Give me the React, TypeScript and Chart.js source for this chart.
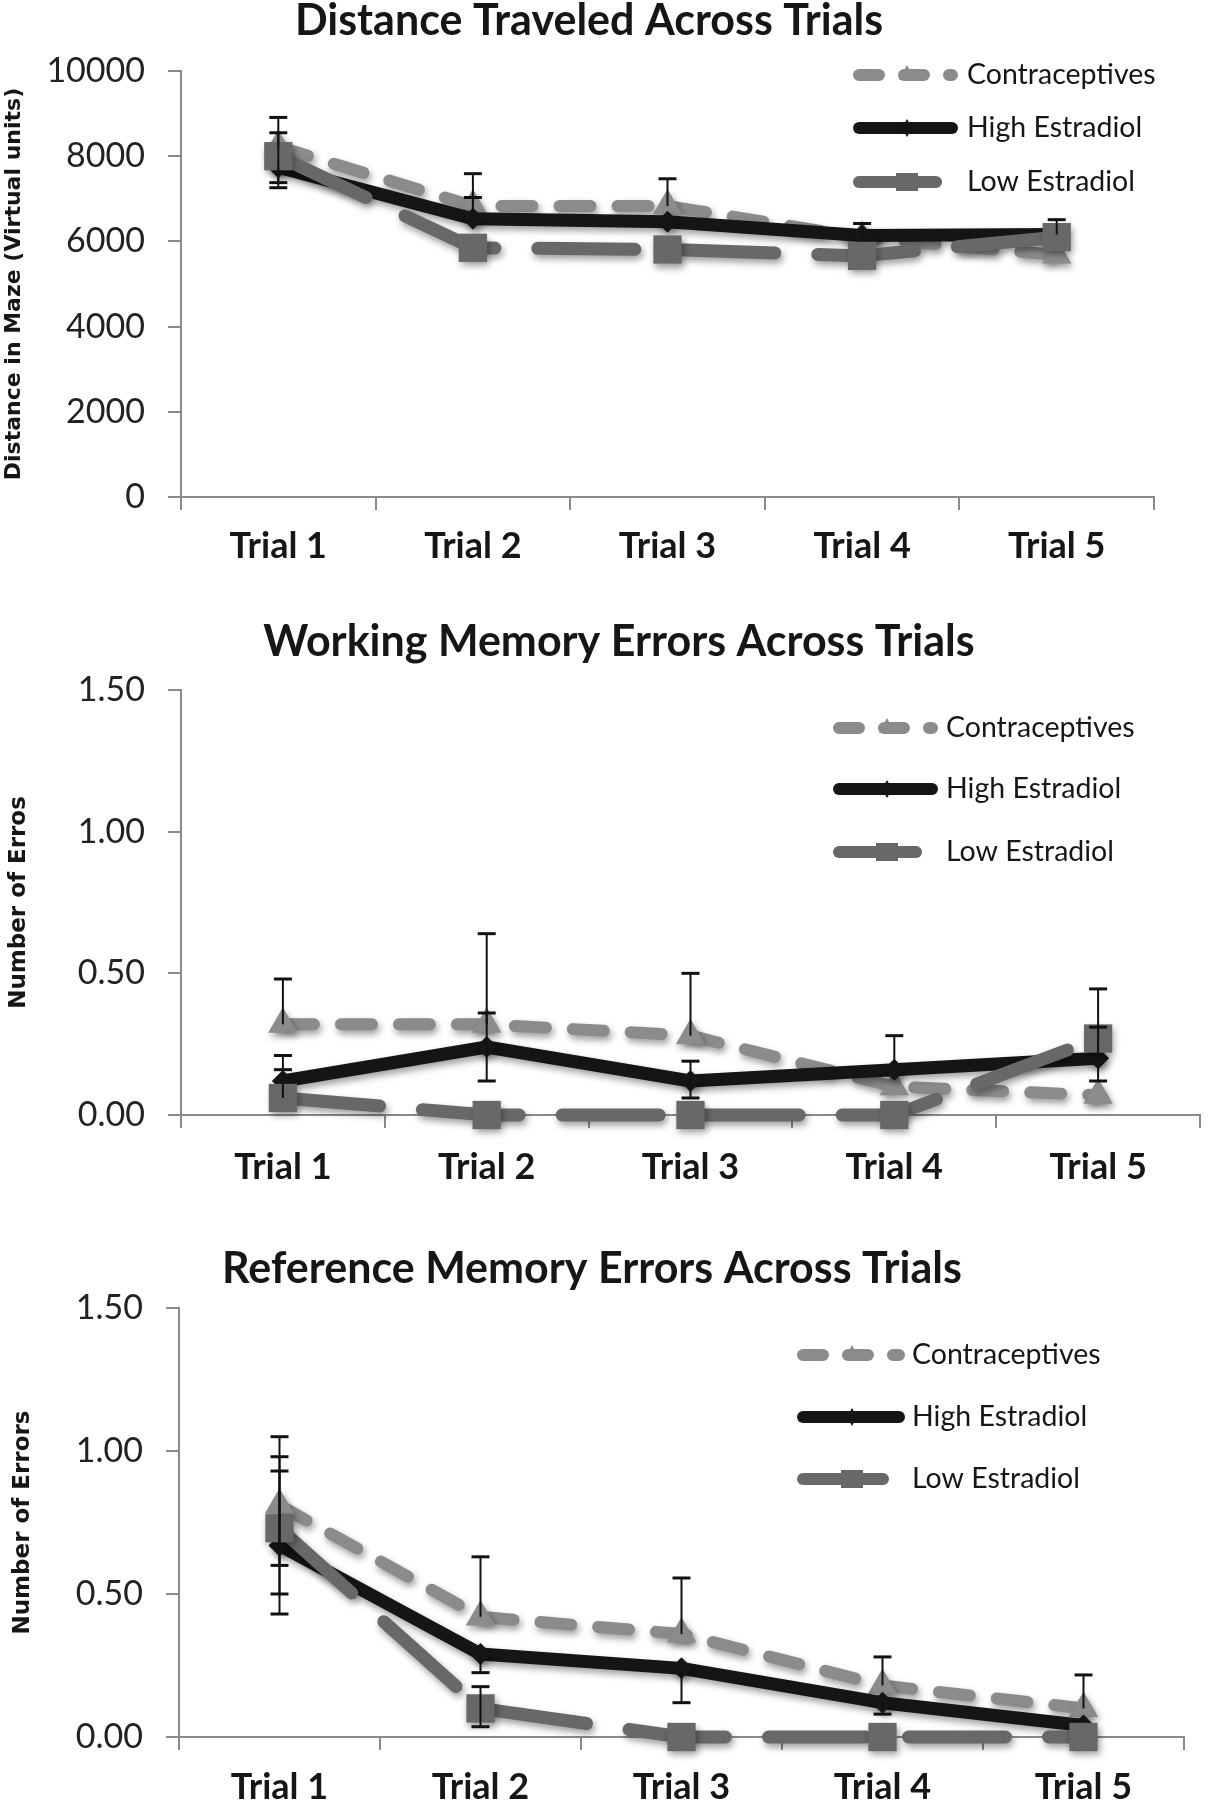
import React, { useEffect, useRef } from 'react';
import { Chart, registerables } from 'chart.js';

Chart.register(...registerables);

// ---------- shared data ----------
const trialLabels = ['Trial 1', 'Trial 2', 'Trial 3', 'Trial 4', 'Trial 5'];
const seriesNames = ['Contraceptives', 'High Estradiol', 'Low Estradiol'];

// ---------- panel 1: distance ----------
const distanceTicks = [0, 2000, 4000, 6000, 8000, 10000];
const distContra = [8220, 6830, 6830, 6090, 5680];
const distHigh = [7740, 6530, 6460, 6140, 6160];
const distLow = [8000, 5850, 5810, 5660, 6100];
const distContraUp = [690, 760, 640, 330, 0];
const distContraDown = [0, 0, 0, 0, 0];
const distHighUp = [0, 500, 0, 0, 350];
const distHighDown = [480, 0, 0, 0, 0];
const distLowUp = [550, 0, 0, 0, 0];
const distLowDown = [620, 0, 0, 0, 0];

// ---------- panel 2: working memory errors ----------
const errorTicks = [0, 0.5, 1.0, 1.5];
const wmContra = [0.32, 0.32, 0.28, 0.1, 0.07];
const wmHigh = [0.12, 0.24, 0.12, 0.16, 0.2];
const wmLow = [0.06, 0, 0, 0, 0.27];
const wmContraUp = [0.16, 0.32, 0.22, 0, 0];
const wmContraDown = [0, 0, 0, 0, 0];
const wmHighUp = [0.09, 0.12, 0.07, 0.12, 0.11];
const wmHighDown = [0, 0.12, 0.06, 0, 0.08];
const wmLowUp = [0.1, 0, 0, 0, 0.175];
const wmLowDown = [0, 0, 0, 0, 0];

// ---------- panel 3: reference memory errors ----------
const rmContra = [0.81, 0.42, 0.36, 0.18, 0.1];
const rmHigh = [0.67, 0.29, 0.24, 0.12, 0.04];
const rmLow = [0.73, 0.1, 0, 0, 0];
const rmContraUp = [0.24, 0.21, 0.196, 0.1, 0.117];
const rmContraDown = [0.21, 0, 0, 0, 0];
const rmHighUp = [0.26, 0, 0, 0, 0];
const rmHighDown = [0.24, 0.065, 0.12, 0.04, 0];
const rmLowUp = [0.25, 0.076, 0, 0, 0];
const rmLowDown = [0.23, 0.064, 0, 0, 0];

// ---------- styles ----------
const CONTRA = '#8b8b8b';
const HIGH = '#151515';
const LOW = '#686868';
const AXIS = '#8a8a8a';
const TEXT = '#161616';

const shadowPlugin = {
  id: 'softShadow',
  beforeDatasetDraw(chart: any) {
    const ctx = chart.ctx;
    ctx.save();
    ctx.shadowColor = 'rgba(0,0,0,0.38)';
    ctx.shadowBlur = 7;
    ctx.shadowOffsetX = 2;
    ctx.shadowOffsetY = 4;
  },
  afterDatasetDraw(chart: any) {
    chart.ctx.restore();
  },
};

const errorBarPlugin = {
  id: 'errorBars',
  afterDatasetsDraw(chart: any) {
    const ctx = chart.ctx;
    const yScale = chart.scales.y;
    ctx.save();
    ctx.strokeStyle = '#111';
    chart.data.datasets.forEach((ds: any, di: number) => {
      const meta = chart.getDatasetMeta(di);
      const up = ds.errUp || [];
      const down = ds.errDown || [];
      meta.data.forEach((pt: any, i: number) => {
        const v = ds.data[i];
        const u = up[i] || 0;
        const d = down[i] || 0;
        if (!u && !d) return;
        const x = pt.x;
        const yTop = yScale.getPixelForValue(v + u);
        const yBot = yScale.getPixelForValue(v - d);
        ctx.lineWidth = 2;
        ctx.beginPath();
        ctx.moveTo(x, yTop);
        ctx.lineTo(x, yBot);
        ctx.stroke();
        ctx.lineWidth = 3;
        const cap = 9;
        if (u) {
          ctx.beginPath();
          ctx.moveTo(x - cap, yTop);
          ctx.lineTo(x + cap, yTop);
          ctx.stroke();
        }
        if (d) {
          ctx.beginPath();
          ctx.moveTo(x - cap, yBot);
          ctx.lineTo(x + cap, yBot);
          ctx.stroke();
        }
      });
    });
    ctx.restore();
  },
};

function drawMarker(ctx: any, style: string, x: number, y: number, color: string) {
  ctx.fillStyle = color;
  ctx.beginPath();
  if (style === 'triangle') {
    ctx.moveTo(x, y - 10);
    ctx.lineTo(x + 8, y + 5);
    ctx.lineTo(x - 8, y + 5);
    ctx.closePath();
  } else if (style === 'rectRot') {
    ctx.moveTo(x, y - 9);
    ctx.lineTo(x + 5, y);
    ctx.lineTo(x, y + 9);
    ctx.lineTo(x - 5, y);
    ctx.closePath();
  } else {
    ctx.rect(x - 11, y - 9, 22, 18);
  }
  ctx.fill();
}

const insetLegendPlugin = {
  id: 'insetLegend',
  afterDraw(chart: any, _args: any, opts: any) {
    const ctx = chart.ctx;
    chart.data.datasets.forEach((ds: any, i: number) => {
      const y = opts.rows[i];
      const x2 = opts.x2[i];
      ctx.save();
      ctx.strokeStyle = ds.borderColor;
      ctx.lineWidth = 12;
      ctx.lineCap = 'round';
      ctx.setLineDash(opts.dashes[i]);
      ctx.beginPath();
      ctx.moveTo(opts.x1 + 6, y);
      ctx.lineTo(x2 - 6, y);
      ctx.stroke();
      ctx.setLineDash([]);
      drawMarker(ctx, ds.pointStyle, opts.markerX, y, ds.pointBackgroundColor);
      ctx.fillStyle = TEXT;
      ctx.font = '28.5px Lato';
      ctx.textBaseline = 'middle';
      ctx.textAlign = 'left';
      ctx.fillText(ds.label, opts.textX, y);
      ctx.restore();
    });
  },
};

interface PanelParams {
  title: string;
  yTitle: string;
  yTitleSize: number;
  yTitlePad: number;
  ticks: number[];
  fmt: (v: number) => string;
  contra: number[];
  high: number[];
  low: number[];
  contraUp: number[];
  contraDown: number[];
  highUp: number[];
  highDown: number[];
  lowUp: number[];
  lowDown: number[];
  padLeft: number;
  padRight: number;
  padTop: number;
  titleGap: number;
  yAxisW: number;
  xAxisH: number;
  xPad: number;
  legend: any;
}

function buildConfig(p: PanelParams): any {
  return {
    type: 'line',
    data: {
      labels: trialLabels,
      datasets: [
        {
          label: seriesNames[0],
          data: p.contra,
          errUp: p.contraUp,
          errDown: p.contraDown,
          borderColor: CONTRA,
          backgroundColor: CONTRA,
          borderWidth: 12,
          borderDash: [31, 27],
          borderCapStyle: 'round',
          borderJoinStyle: 'round',
          pointStyle: 'triangle',
          pointRadius: 17,
          pointHoverRadius: 17,
          pointBackgroundColor: CONTRA,
          pointBorderWidth: 0,
          order: 2,
          clip: false,
        },
        {
          label: seriesNames[1],
          data: p.high,
          errUp: p.highUp,
          errDown: p.highDown,
          borderColor: HIGH,
          backgroundColor: HIGH,
          borderWidth: 13,
          borderJoinStyle: 'round',
          borderCapStyle: 'round',
          pointStyle: 'rectRot',
          pointRadius: 11,
          pointHoverRadius: 11,
          pointBackgroundColor: HIGH,
          pointBorderWidth: 0,
          order: 1,
          clip: false,
        },
        {
          label: seriesNames[2],
          data: p.low,
          errUp: p.lowUp,
          errDown: p.lowDown,
          borderColor: LOW,
          backgroundColor: LOW,
          borderWidth: 13,
          borderDash: [97, 43],
          borderCapStyle: 'round',
          borderJoinStyle: 'round',
          pointStyle: 'rect',
          pointRadius: 20,
          pointHoverRadius: 20,
          pointBackgroundColor: LOW,
          pointBorderWidth: 0,
          order: 0,
          clip: false,
        },
      ],
    },
    options: {
      responsive: false,
      animation: false,
      events: [],
      layout: { padding: { left: p.padLeft, right: p.padRight, top: p.padTop, bottom: 0 } },
      plugins: {
        legend: { display: false },
        tooltip: { enabled: false },
        title: {
          display: true,
          text: p.title,
          color: TEXT,
          font: { family: 'Lato', weight: 'bold', size: 43, lineHeight: 1 },
          padding: { top: 0, bottom: p.titleGap },
        },
        insetLegend: p.legend,
      },
      scales: {
        x: {
          type: 'category',
          offset: true,
          grid: {
            offset: true,
            drawOnChartArea: false,
            drawTicks: true,
            tickLength: 13,
            color: AXIS,
            lineWidth: 2,
          },
          border: { display: true, color: AXIS, width: 2 },
          ticks: {
            padding: p.xPad,
            font: { family: 'Lato', weight: 'bold', size: 36 },
            color: TEXT,
            maxRotation: 0,
            autoSkip: false,
          },
          afterFit: (s: any) => {
            s.height = p.xAxisH;
          },
        },
        y: {
          type: 'linear',
          min: p.ticks[0],
          max: p.ticks[p.ticks.length - 1],
          afterBuildTicks: (s: any) => {
            s.ticks = p.ticks.map((v) => ({ value: v }));
          },
          grid: {
            drawOnChartArea: false,
            drawTicks: true,
            tickLength: 13,
            color: AXIS,
            lineWidth: 2,
          },
          border: { display: true, color: AXIS, width: 2 },
          ticks: {
            padding: 23,
            font: { family: 'Lato', size: 34 },
            color: '#222',
            callback: (v: any) => p.fmt(Number(v)),
          },
          title: {
            display: true,
            text: p.yTitle,
            color: TEXT,
            font: { family: 'DejaVu Sans', weight: 'bold', size: p.yTitleSize },
            padding: { top: p.yTitlePad, bottom: 0 },
          },
          afterFit: (s: any) => {
            s.width = p.yAxisW;
          },
        },
      },
    },
    plugins: [shadowPlugin, errorBarPlugin, insetLegendPlugin],
  };
}

const fmtInt = (v: number) => String(Math.round(v));
const fmt2 = (v: number) => v.toFixed(2);

const panel1: PanelParams = {
  title: 'Distance Traveled Across Trials',
  yTitle: 'Distance in Maze (Virtual units)',
  yTitleSize: 22,
  yTitlePad: -23,
  ticks: distanceTicks,
  fmt: fmtInt,
  contra: distContra,
  high: distHigh,
  low: distLow,
  contraUp: distContraUp,
  contraDown: distContraDown,
  highUp: distHighUp,
  highDown: distHighDown,
  lowUp: distLowUp,
  lowDown: distLowDown,
  padLeft: 24,
  padRight: 66,
  padTop: 0,
  titleGap: 28,
  yAxisW: 157,
  xAxisH: 103,
  xPad: 15,
  legend: {
    x1: 853,
    x2: [958, 958, 942],
    markerX: 907,
    textX: 967,
    rows: [75, 128, 182],
    dashes: [[20, 25], [], []],
  },
};

const panel2: PanelParams = {
  title: 'Working Memory Errors Across Trials',
  yTitle: 'Number of Erros',
  yTitleSize: 23,
  yTitlePad: -15,
  ticks: errorTicks,
  fmt: fmt2,
  contra: wmContra,
  high: wmHigh,
  low: wmLow,
  contraUp: wmContraUp,
  contraDown: wmContraDown,
  highUp: wmHighUp,
  highDown: wmHighDown,
  lowUp: wmLowUp,
  lowDown: wmLowDown,
  padLeft: 20,
  padRight: 2,
  padTop: 21,
  titleGap: 26,
  yAxisW: 161,
  xAxisH: 85,
  xPad: 18,
  legend: {
    x1: 833,
    x2: [938, 938, 922],
    markerX: 887,
    textX: 946,
    rows: [128, 189, 252],
    dashes: [[20, 25], [], []],
  },
};

const panel3: PanelParams = {
  title: 'Reference Memory Errors Across Trials',
  yTitle: 'Number of Errors',
  yTitleSize: 23,
  yTitlePad: 9,
  ticks: errorTicks,
  fmt: fmt2,
  contra: rmContra,
  high: rmHigh,
  low: rmLow,
  contraUp: rmContraUp,
  contraDown: rmContraDown,
  highUp: rmHighUp,
  highDown: rmHighDown,
  lowUp: rmLowUp,
  lowDown: rmLowDown,
  padLeft: 0,
  padRight: 36,
  padTop: 48,
  titleGap: 17,
  yAxisW: 179,
  xAxisH: 63,
  xPad: 16,
  legend: {
    x1: 797,
    x2: [905, 905, 889],
    markerX: 852,
    textX: 912,
    rows: [155, 217, 279],
    dashes: [[20, 25], [], []],
  },
};

function Panel({ top, height, params }: { top: number; height: number; params: PanelParams }) {
  const ref = useRef<HTMLCanvasElement | null>(null);
  useEffect(() => {
    if (!ref.current) return;
    const chart = new Chart(ref.current, buildConfig(params));
    return () => chart.destroy();
  }, [params]);
  return (
    <canvas
      ref={ref}
      width={1220}
      height={height}
      style={{ position: 'absolute', left: 0, top, width: 1220, height }}
    />
  );
}

export default function App() {
  return (
    <div
      style={{
        position: 'absolute',
        left: 0,
        top: 0,
        width: 1220,
        height: 1800,
        overflow: 'hidden',
        background: '#ffffff',
      }}
    >
      <Panel top={0} height={600} params={panel1} />
      <Panel top={600} height={600} params={panel2} />
      <Panel top={1200} height={600} params={panel3} />
    </div>
  );
}
